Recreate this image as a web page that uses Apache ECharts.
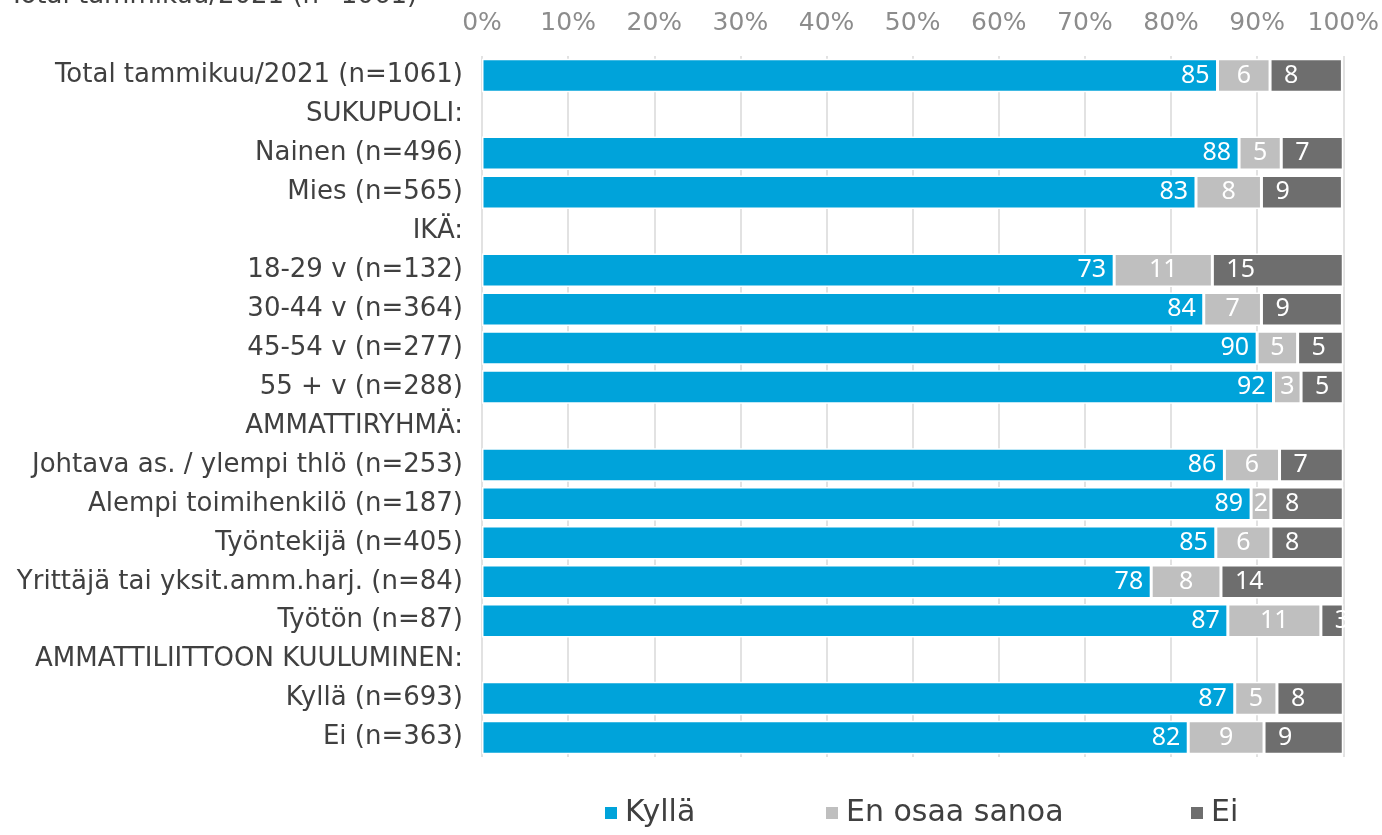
<!DOCTYPE html>
<html>
<head>
<meta charset="utf-8">
<script src="https://cdn.jsdelivr.net/npm/echarts@6/dist/echarts.min.js"></script>
<style>
  html, body { margin: 0; padding: 0; background: #fff; }
  #container { width: 1382px; height: 835px; }
</style>
</head>
<body>
<div id="container"></div>
<script>
var categories = [
    'Total tammikuu/2021 (n=1061)',
    'SUKUPUOLI:',
    'Nainen (n=496)',
    'Mies (n=565)',
    'IKÄ:',
    '18-29 v (n=132)',
    '30-44 v (n=364)',
    '45-54 v (n=277)',
    '55 + v (n=288)',
    'AMMATTIRYHMÄ:',
    'Johtava as. / ylempi thlö (n=253)',
    'Alempi toimihenkilö (n=187)',
    'Työntekijä (n=405)',
    'Yrittäjä tai yksit.amm.harj. (n=84)',
    'Työtön (n=87)',
    'AMMATTILIITTOON KUULUMINEN:',
    'Kyllä (n=693)',
    'Ei (n=363)'
];
var kylla = [85.4, null, 87.9, 82.9, null, 73.4, 83.8, 90.0, 91.9, null, 86.2, 89.3, 85.2, 77.7, 86.6, null, 87.4, 82.0];
var eos   = [6.1, null, 4.9, 7.6, null, 11.4, 6.7, 4.7, 3.2, null, 6.4, 2.3, 6.4, 8.1, 10.8, null, 4.9, 8.8];
var ei    = [8.4, null, 7.2, 9.4, null, 15.2, 9.4, 5.3, 4.9, null, 7.4, 8.4, 8.4, 14.2, 2.6, null, 7.7, 9.2];
var seriesNames = ['Kyllä', 'En osaa sanoa', 'Ei'];
var colors = ['#00A3DA', '#BFBFBF', '#6E6E6E'];

var dom = document.getElementById("container");
var myChart = echarts.init(dom);
var fontFam = 'DejaVu Sans';

function lbl(pos, dist) {
    return {
        show: true,
        position: pos,
        distance: dist,
        color: '#fff',
        fontSize: 25,
        fontFamily: 'Noto Sans',
        formatter: function (p) { return p.value == null ? '' : Math.round(p.value); }
    };
}

// legend items sit at uneven spots, so one legend per item
var legendLeft = [598, 819, 1184];
var legends = seriesNames.map(function (n, i) {
    return {
        data: [n],
        left: legendLeft[i],
        bottom: 2,
        itemWidth: 14,
        itemHeight: 14,
        itemGap: 0,
        icon: 'rect',
        textStyle: { color: '#404040', fontSize: 30, fontFamily: fontFam, padding: [0, 0, 0, 2] }
    };
});

var option = {
    animation: false,
    color: colors,
    title: {
        text: 'Total tammikuu/2021 (n=1061)',
        left: 4,
        top: -22,
        textStyle: { color: '#404040', fontSize: 26, fontWeight: 'normal', fontFamily: fontFam }
    },
    legend: legends,
    grid: { left: 482, right: 38, top: 56, bottom: 78 },
    xAxis: {
        type: 'value',
        position: 'top',
        min: 0,
        max: 100,
        interval: 10,
        axisLabel: { formatter: '{value}%', color: '#8C8C8C', fontSize: 25, fontFamily: fontFam, margin: 20 },
        axisLine: { show: false },
        axisTick: { show: false },
        splitLine: { lineStyle: { color: '#D9D9D9', width: 1.5 } }
    },
    yAxis: {
        type: 'category',
        inverse: true,
        data: categories,
        axisLabel: { color: '#404040', fontSize: 26, fontFamily: fontFam, margin: 19 },
        axisLine: { show: false },
        axisTick: { show: false }
    },
    series: [
        { name: seriesNames[0], type: 'bar', stack: 'a', barWidth: '86%', data: kylla,
          itemStyle: { borderColor: '#fff', borderWidth: 1.5 }, label: lbl('insideRight', 8) },
        { name: seriesNames[1], type: 'bar', stack: 'a', barWidth: '86%', data: eos,
          itemStyle: { borderColor: '#fff', borderWidth: 1.5 }, label: lbl('inside', 5) },
        { name: seriesNames[2], type: 'bar', stack: 'a', barWidth: '86%', data: ei,
          itemStyle: { borderColor: '#fff', borderWidth: 1.5 }, label: lbl('insideLeft', 14) }
    ]
};

if (option && typeof option === "object") {
    myChart.setOption(option, true);
}
</script>
</body>
</html>
